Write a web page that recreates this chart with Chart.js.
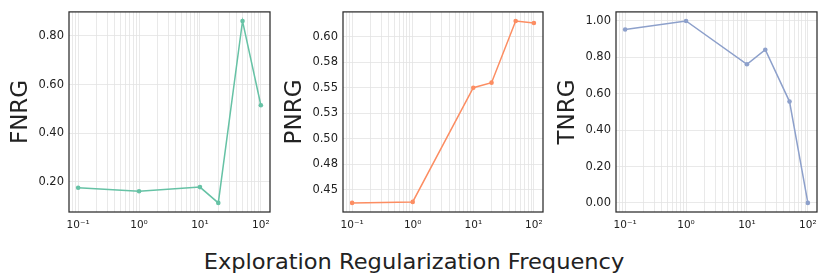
<!DOCTYPE html>
<html><head><meta charset="utf-8">
<script src="https://cdn.jsdelivr.net/npm/chart.js@4"></script>
<style>
body{margin:0;background:#fff;width:830px;height:277px;overflow:hidden;position:relative;font-family:"DejaVu Sans";}
canvas{position:absolute;top:0;}
#xl{position:absolute;left:-1px;top:252px;width:830px;text-align:center;font:20.5px "DejaVu Sans";line-height:20.5px;color:#222;transform:scaleX(1.1);transform-origin:50% 50%;}
</style></head><body>
<canvas id="c1"></canvas><canvas id="c2"></canvas><canvas id="c3"></canvas>
<div id="xl">Exploration Regularization Frequency</div>
<script>
const freqs = [0.1, 1, 10, 20, 50, 100];
const fnrg = [0.176, 0.162, 0.179, 0.114, 0.861, 0.515];
const pnrg = [0.437, 0.438, 0.550, 0.555, 0.6155, 0.6136];
const tnrg = [0.953, 1.0, 0.762, 0.842, 0.557, 0.0];
const xTicks = [0.1, 1, 10, 100];
const xTickLabels = ['10\u207B\u00B9', '10\u2070', '10\u00B9', '10\u00B2'];
const fnrgTicks = [0.2, 0.4, 0.6, 0.8];
const fnrgLabels = ['0.20', '0.40', '0.60', '0.80'];
const pnrgTicks = [0.45, 0.475, 0.5, 0.525, 0.55, 0.575, 0.6];
const pnrgLabels = ['0.45', '0.48', '0.50', '0.53', '0.55', '0.58', '0.60'];
const tnrgTicks = [0, 0.2, 0.4, 0.6, 0.8, 1.0];
const tnrgLabels = ['0.00', '0.20', '0.40', '0.60', '0.80', '1.00'];

const minorX = [];
for (let e = -2; e <= 2; e++) for (let m = 1; m <= 9; m++) minorX.push(m * Math.pow(10, e));

const lx0 = Math.log10(Math.min(...freqs)), lx1 = Math.log10(Math.max(...freqs));
const xMin = Math.pow(10, lx0 - 0.05 * (lx1 - lx0)), xMax = Math.pow(10, lx1 + 0.05 * (lx1 - lx0));
function yLim(arr){const a=Math.min(...arr),b=Math.max(...arr),d=b-a;return [a-0.05*d,b+0.05*d];}

const frame = {id:'frame', afterDraw(chart){const {ctx, chartArea:a}=chart; ctx.save(); ctx.strokeStyle='#2b2b2b'; ctx.lineWidth=1.25; ctx.strokeRect(a.left,a.top,a.right-a.left,a.bottom-a.top); ctx.restore();}};

function make(id, L, CL, CR, titleCenter, title, vals, color, yt, yl){
  const cv = document.getElementById(id);
  const padR = 13, H = 232;
  cv.width = CR - L + padR; cv.height = H; cv.style.left = L + 'px';
  const [ymin, ymax] = yLim(vals);
  new Chart(cv, {
    type: 'line',
    data: {datasets: [{data: freqs.map((f,i)=>({x:f,y:vals[i]})), borderColor: color, backgroundColor: color,
      borderWidth: 1.5, pointRadius: 2.3, pointBorderWidth: 0, pointBackgroundColor: color, tension: 0}]},
    options: {
      responsive: false, animation: false, devicePixelRatio: 1,
      layout: {padding: {top: 9, right: padR, left: 0, bottom: 0}},
      plugins: {legend: {display: false}, tooltip: {enabled: false}},
      scales: {
        x: {type: 'logarithmic', min: xMin, max: xMax,
          afterBuildTicks: s => { s.ticks = minorX.filter(v => v >= xMin && v <= xMax).map(v => ({value: v, major: xTicks.some(t => Math.abs(t - v) < 1e-9)})); },
          afterFit: s => { s.height = H - 212; },
          grid: {color: '#e3e3e3', lineWidth: 0.8, drawTicks: false},
          border: {display: false},
          ticks: {autoSkip: false, maxRotation: 0, padding: 7, color: '#222', font: {family: 'DejaVu Sans', size: 10.5},
            callback: v => { const i = xTicks.findIndex(t => Math.abs(t - v) < 1e-9); return i >= 0 ? xTickLabels[i] : ''; }}
        },
        y: {type: 'linear', min: ymin, max: ymax,
          afterBuildTicks: s => { s.ticks = yt.map(v => ({value: v})); },
          afterFit: s => { s.width = CL - L; },
          grid: {color: '#e3e3e3', lineWidth: 0.8, drawTicks: false},
          border: {display: false},
          title: {display: true, text: title, color: '#222', font: {family: 'DejaVu Sans', size: 23}, padding: {top: titleCenter - L - 13.8, bottom: 0}},
          ticks: {padding: 5, color: '#222', font: {family: 'DejaVu Sans', size: 11.5},
            callback: v => { const i = yt.findIndex(t => Math.abs(t - v) < 1e-9); return i >= 0 ? yl[i] : ''; }}
        }
      }
    },
    plugins: [frame]
  });
}
make('c1', 0, 69, 270, 21.3, 'FNRG', fnrg, '#66c2a5', fnrgTicks, fnrgLabels);
make('c2', 274, 343, 543, 294.7, 'PNRG', pnrg, '#fc8d62', pnrgTicks, pnrgLabels);
make('c3', 547, 616, 817, 567.7, 'TNRG', tnrg, '#8da0cb', tnrgTicks, tnrgLabels);
</script>
</body></html>
